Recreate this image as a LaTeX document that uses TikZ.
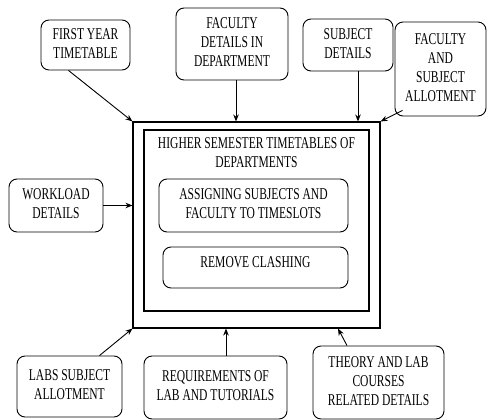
\documentclass[tikz,border=0pt]{standalone}
\usepackage{fontspec}
\usepackage{graphicx}
\setmainfont{Liberation Serif}
\usetikzlibrary{arrows.meta,calc}
\newcommand\nt[1]{\scalebox{0.7}[1]{\begin{tabular}{@{}c@{}}#1\end{tabular}}}
\begin{document}
\begin{tikzpicture}[x=1pt,y=-1pt,
  rbox/.style={draw,line width=0.9pt,rounded corners=8pt,align=center,inner sep=0pt,
    font=\fontsize{16.5}{19}\selectfont},
  sbox/.style={draw,line width=1.1pt,inner sep=0pt},
  arr/.style={line width=0.9pt,-{Stealth[length=7pt,width=5.5pt]}}]
\useasboundingbox (0,0) rectangle (487,420);
\node[rbox,minimum width=89pt,minimum height=50pt] (fy) at (85.5,45) {\nt{FIRST YEAR\\TIMETABLE}};
\node[rbox,minimum width=112pt,minimum height=72pt] (fd) at (232,44) {\nt{FACULTY\\DETAILS IN\\DEPARTMENT}};
\node[rbox,minimum width=90pt,minimum height=52pt] (sd) at (348,45) {\nt{SUBJECT\\DETAILS}};
\node[rbox,minimum width=91pt,minimum height=94pt] (fa) at (440.5,69) {\nt{FACULTY\\AND\\SUBJECT\\ALLOTMENT}};
\node[rbox,minimum width=94pt,minimum height=53pt] (wl) at (56,205.5) {\nt{WORKLOAD\\DETAILS}};
\node[sbox,minimum width=247pt,minimum height=206pt] (outer) at (256.5,225) {};
\node[sbox,minimum width=225pt,minimum height=181pt] (inner) at (256.5,220.5) {};
\node[align=center,inner sep=0pt,font=\fontsize{16.5}{19}\selectfont] (title) at (256.5,154) {\nt{HIGHER SEMESTER TIMETABLES OF\\DEPARTMENTS}};
\node[rbox,minimum width=189pt,minimum height=53pt] (as) at (253.5,205.5) {\nt{ASSIGNING SUBJECTS AND\\FACULTY TO TIMESLOTS}};
\node[rbox,minimum width=185pt,minimum height=41pt] (rc) at (255.5,267.5) {};
\node[inner sep=0pt,font=\fontsize{16.5}{19}\selectfont] (rct) at (255.5,263.5) {\nt{REMOVE CLASHING}};
\node[rbox,minimum width=105pt,minimum height=61pt] (lab) at (69.5,386.5) {\nt{LABS SUBJECT\\ALLOTMENT}};
\node[rbox,minimum width=143pt,minimum height=63pt] (req) at (215.5,387.5) {\nt{REQUIREMENTS OF\\LAB AND TUTORIALS}};
\node[rbox,minimum width=131pt,minimum height=73pt] (th) at (378.5,382.5) {\nt{THEORY AND LAB\\COURSES\\RELATED DETAILS}};
\draw[arr] ($(fy.south)+(-17,0)$) -- (outer.north west);
\draw[arr] ($(fd.south)+(4,0)$) -- ($(outer.north)+(-20.5,0)$);
\draw[arr] ($(sd.south)+(10,0)$) -- ($(outer.north)+(101.5,0)$);
\draw[arr] ($(fa.south west)+(8,-6)$) -- (outer.north east);
\draw[arr] (wl.east) -- (wl.east -| outer.west);
\draw[arr] ($(lab.north)+(30,0)$) -- (outer.south west);
\draw[arr] ($(req.north)+(10.5,0)$) -- ($(outer.south)+(-30.5,0)$);
\draw[arr] ($(th.north)+(-31.5,0)$) -- ($(outer.south)+(81.5,0)$);
\end{tikzpicture}
\end{document}
